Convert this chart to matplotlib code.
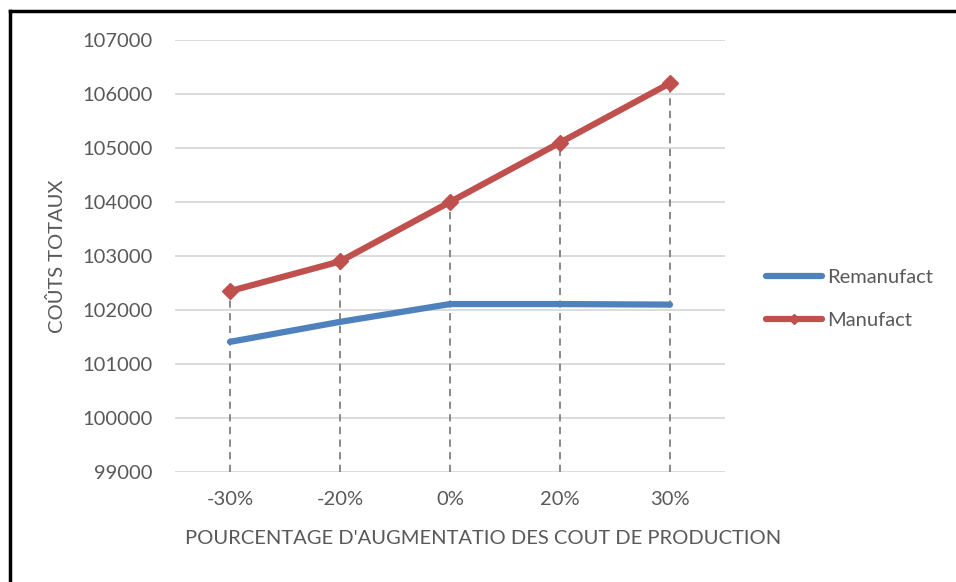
import matplotlib.pyplot as plt
from matplotlib.lines import Line2D

plt.rcParams['font.family'] = ['Lato', 'DejaVu Sans']

categories = ["-30%", "-20%", "0%", "20%", "30%"]
remanufact = [101410, 101780, 102110, 102110, 102100]
manufact = [102350, 102900, 104000, 105100, 106200]
yticks = [99000, 100000, 101000, 102000, 103000, 104000, 105000, 106000, 107000]

txt = "#595959"
blue = "#4f81bd"
red = "#c0504d"
fs = 14.5

fig = plt.figure(figsize=(9.56, 5.82), dpi=100)
ax = fig.add_axes([175/956, 1-472/582, 550/956, 432/582])

x = range(len(categories))

# drop lines
for i, v in zip(x, manufact):
    ax.plot([i, i], [99000, v], color="#808080", lw=1.3, ls=(0, (4, 3)), zorder=2)

ax.plot(x, remanufact, color=blue, lw=4.5, solid_capstyle="round", label="Remanufact", zorder=3)
ax.plot(x, manufact, color=red, lw=4.5, marker="D", markersize=8, solid_capstyle="round",
        label="Manufact", zorder=4)

ax.set_xlim(-0.5, 4.5)
ax.set_ylim(99000, 107000)
ax.set_yticks(yticks)
ax.set_xticks(list(x))
ax.set_xticklabels(categories)
ax.grid(axis="y", color="#d9d9d9", lw=1.3, zorder=0)
ax.set_axisbelow(True)
for s in ax.spines.values():
    s.set_visible(False)
ax.tick_params(length=0, colors=txt, labelsize=fs)
ax.tick_params(axis="x", pad=14)
ax.tick_params(axis="y", pad=16)

ax.set_xlabel("POURCENTAGE D'AUGMENTATIO DES COUT DE PRODUCTION", color=txt, fontsize=fs, labelpad=16)
ax.xaxis.set_label_coords(0.56, -0.135)
ax.set_ylabel("COÛTS TOTAUX", color=txt, fontsize=fs, labelpad=12)

leg = ax.legend(handles=[Line2D([], [], color=blue, lw=4.5, solid_capstyle="round"),
                         Line2D([], [], color=red, lw=4.5, marker="D", markersize=5, solid_capstyle="round")],
                labels=["Remanufact", "Manufact"],
                loc="center left", bbox_to_anchor=(1.042, 0.40), frameon=False,
                fontsize=fs, handlelength=2.75, handletextpad=0.25, labelspacing=1.3,
                labelcolor=txt)

# frame border (top and left)
fig.add_artist(Line2D([10/956, 1], [1-11/582, 1-11/582], color="black", lw=2.5))
fig.add_artist(Line2D([10/956, 10/956], [0, 1-11/582], color="black", lw=2.5))

fig.savefig("out.png", dpi=100)
